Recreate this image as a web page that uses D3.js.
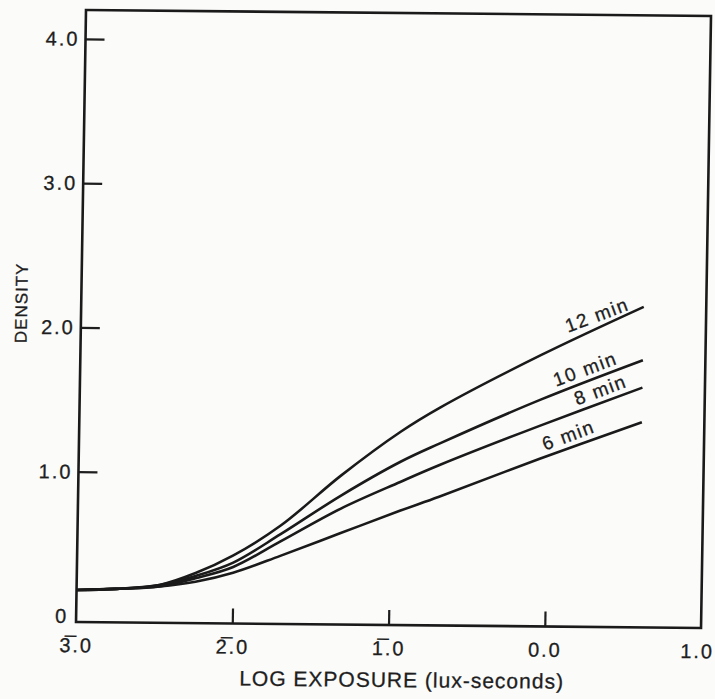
<!DOCTYPE html>
<html>
<head>
<meta charset="utf-8">
<script src="https://cdn.jsdelivr.net/npm/d3@7"></script>
<style>
  body { margin: 0; background: #fbfbfa; }
  svg { display: block; }
  text { font-family: "Liberation Sans", Arial, sans-serif; fill: #1e1e1e; stroke: #1e1e1e; stroke-width: 0.3; }
</style>
</head>
<body>
<script>
// log exposure values and density per development time
var exposure = [-3.0, -2.75, -2.47, -2.24, -2.0, -1.70, -1.32, -0.94, -0.69, -0.05, 0.60];
var d12 = [0.18, 0.19, 0.22, 0.305, 0.43, 0.64, 0.99, 1.30, 1.47, 1.84, 2.18];
var d10 = [0.18, 0.19, 0.22, 0.285, 0.38, 0.58, 0.85, 1.09, 1.22, 1.53, 1.81];
var d8  = [0.18, 0.19, 0.21, 0.27, 0.35, 0.53, 0.76, 0.95, 1.07, 1.35, 1.62];
var d6  = [0.18, 0.19, 0.21, 0.245, 0.31, 0.43, 0.59, 0.75, 0.85, 1.12, 1.38];
var seriesNames = ["12 min", "10 min", "8 min", "6 min"];
var labelAt = [0.33, 0.26, 0.36, 0.16];   // exposure where each label sits on its curve

var yTicks = [0, 1, 2, 3, 4];
var yTickLabels = ["0", "1.0", "2.0", "3.0", "4.0"];
var xTicks = [-3, -2, -1, 0, 1];
var xTickLabels = ["3\u0305.0", "2\u0305.0", "1\u0305.0", "0.0", "1.0"];

var W = 625, H = 612;

var svg = d3.select("body").append("svg")
    .attr("width", 715)
    .attr("height", 699);

// the scanned page is a little skewed, so the whole plot gets a small shear
var g = svg.append("g")
    .attr("transform", "matrix(1,0.0096,-0.0163,1,86,10)");

var x = d3.scaleLinear().domain([-3, 1]).range([0, W]);
var y = d3.scaleLinear().domain([-0.042, 4.2]).range([H, 0]);

// y axis, ticks pointing inward
var yAxis = g.append("g")
    .call(d3.axisLeft(y).tickValues(yTicks).tickSize(-19).tickPadding(6)
        .tickFormat(function(d, i) { return yTickLabels[i]; }));
yAxis.select(".domain").remove();
yAxis.selectAll(".tick line").attr("stroke", "#1e1e1e").attr("stroke-width", 2.2)
    .filter(function(d) { return d == 0; }).remove();
yAxis.selectAll(".tick text")
    .attr("font-size", 20).attr("letter-spacing", 2)
    .attr("font-family", null).attr("fill", null);
yAxis.selectAll(".tick").filter(function(d) { return d == 0; }).select("text").attr("x", -8);

// x axis
var xAxis = g.append("g")
    .attr("transform", "translate(0," + H + ")")
    .call(d3.axisBottom(x).tickValues(xTicks).tickSize(-15).tickPadding(16)
        .tickFormat(function(d, i) { return xTickLabels[i]; }));
xAxis.select(".domain").remove();
xAxis.selectAll(".tick line").attr("stroke", "#1e1e1e").attr("stroke-width", 2.2)
    .filter(function(d) { return d == -3 || d == 1; }).remove();
xAxis.selectAll(".tick text")
    .attr("font-size", 20).attr("letter-spacing", 2)
    .attr("font-family", null).attr("fill", null);
// last label sits right on the page edge
xAxis.selectAll(".tick").filter(function(d) { return d == 1; }).select("text").attr("dx", -4);

// frame
g.append("rect")
    .attr("x", 0).attr("y", 0)
    .attr("width", W).attr("height", H)
    .attr("fill", "none")
    .attr("stroke", "#1a1a1a")
    .attr("stroke-width", 2.6);

// curves
var all = [d12, d10, d8, d6];
var line = d3.line()
    .x(function(d, i) { return x(exposure[i]); })
    .y(function(d) { return y(d); })
    .curve(d3.curveCatmullRom.alpha(0.5));

g.selectAll(".curve")
    .data(all)
    .enter().append("path")
    .attr("class", "curve")
    .attr("d", line)
    .attr("fill", "none")
    .attr("stroke", "#1a1a1a")
    .attr("stroke-width", 2.6);

// labels sitting just above the curves
all.forEach(function(s, k) {
    var ly = d3.scaleLinear().domain(exposure).range(s)(labelAt[k]);
    g.append("text")
        .attr("transform", "translate(" + x(labelAt[k]) + "," + y(ly) + ") rotate(-21)")
        .attr("y", -6)
        .attr("text-anchor", "middle")
        .attr("font-size", 19)
        .attr("letter-spacing", 1.6)
        .text(seriesNames[k]);
});

// axis titles
g.append("text")
    .attr("x", W / 2 + 14)
    .attr("y", H + 62)
    .attr("text-anchor", "middle")
    .attr("font-size", 21)
    .attr("letter-spacing", 1)
    .text("LOG EXPOSURE (lux-seconds)");

g.append("text")
    .attr("transform", "translate(-54," + (y(2) - 24) + ") rotate(-90)")
    .attr("text-anchor", "middle")
    .attr("font-size", 17)
    .attr("letter-spacing", 1)
    .text("DENSITY");
</script>
</body>
</html>
